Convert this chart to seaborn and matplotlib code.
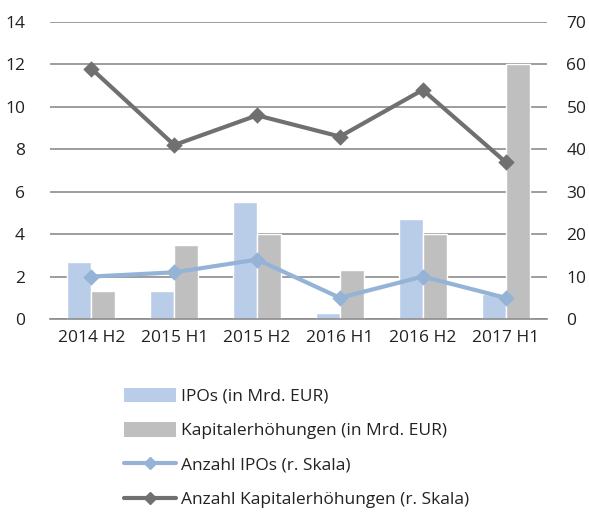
import matplotlib
matplotlib.use("Agg")
import matplotlib.pyplot as plt
import seaborn as sns
import pandas as pd
import numpy as np
from matplotlib.patches import Patch
from matplotlib.lines import Line2D

categories = ["2014 H2", "2015 H1", "2015 H2", "2016 H1", "2016 H2", "2017 H1"]
ipo_volume = [2.7, 1.3, 5.5, 0.3, 4.7, 1.2]
kap_volume = [1.3, 3.5, 4.0, 2.3, 4.0, 12.0]
ipo_count = [10, 11, 14, 5, 10, 5]
kap_count = [59, 41, 48, 43, 54, 37]
left_ticks = [0, 2, 4, 6, 8, 10, 12, 14]
right_ticks = [0, 10, 20, 30, 40, 50, 60, 70]
labels = ["IPOs (in Mrd. EUR)", "Kapitalerhöhungen (in Mrd. EUR)",
          "Anzahl IPOs (r. Skala)", "Anzahl Kapitalerhöhungen (r. Skala)"]

c_bar1 = "#B9CDE9"
c_bar2 = "#BFBFBF"
c_line1 = "#95B3D7"
c_line2 = "#707070"
grid_c = "#8C8C8C"

sns.set_theme(style="white")
plt.rcParams["font.family"] = ["Open Sans", "DejaVu Sans"]
plt.rcParams["font.size"] = 12

fig = plt.figure(figsize=(5.89, 5.12), dpi=100)
ax = fig.add_axes([50/589, 1-319/512, 497/589, 297/512])

df = pd.DataFrame({
    "cat": categories * 2,
    "val": ipo_volume + kap_volume,
    "series": [labels[0]] * 6 + [labels[1]] * 6,
})
sns.barplot(data=df, x="cat", y="val", hue="series", order=categories,
            hue_order=labels[:2], palette=[c_bar1, c_bar2], width=0.58,
            saturation=1, ax=ax, legend=False, zorder=2)
ax.set_ylim(0, 14)
ax.set_yticks(left_ticks)
ax.set_xlim(-0.5, len(categories) - 0.5)
ax.grid(axis="y", color=grid_c, linewidth=1.2, zorder=0)
ax.set_axisbelow(True)
for s in ["left", "right", "top"]:
    ax.spines[s].set_visible(False)
ax.spines["bottom"].set_color(grid_c)
ax.spines["bottom"].set_linewidth(1.2)
ax.set_xlabel("")
ax.set_ylabel("")
ax.tick_params(axis="y", length=0, pad=18, labelsize=12.5, colors="#222222")
ax.tick_params(axis="x", which="major", length=0, pad=8, labelsize=12.5, colors="#222222")
ax.set_xticks(np.arange(-0.5, len(categories)), minor=True)
ax.tick_params(axis="x", which="minor", length=6, color=grid_c, width=1.2, direction="out")

ax2 = ax.twinx()
sns.pointplot(x=categories, y=ipo_count, order=categories, color=c_line1,
              markers="D", markersize=6, linewidth=3, ax=ax2)
sns.pointplot(x=categories, y=kap_count, order=categories, color=c_line2,
              markers="D", markersize=6, linewidth=3, ax=ax2)
ax2.set_ylim(0, 70)
ax2.set_yticks(right_ticks)
ax2.set_xlim(-0.5, len(categories) - 0.5)
for s in ["left", "right", "top", "bottom"]:
    ax2.spines[s].set_visible(False)
ax2.tick_params(axis="y", length=0, pad=14, labelsize=12.5, colors="#222222")
ax2.set_ylabel("")
ax2.grid(False)

handles = [
    Patch(facecolor=c_bar1, edgecolor="none"),
    Patch(facecolor=c_bar2, edgecolor="none"),
    Line2D([0], [0], color=c_line1, lw=3, marker="D", markersize=6),
    Line2D([0], [0], color=c_line2, lw=3, marker="D", markersize=6),
]
fig.legend(handles, labels, loc="upper left", bbox_to_anchor=(108/589, 1-372/512),
           frameon=False, fontsize=12.5, handlelength=3.0, handleheight=0.9,
           labelspacing=1.0, handletextpad=0.3, labelcolor="#222222")

fig.savefig("out.png", dpi=100)
